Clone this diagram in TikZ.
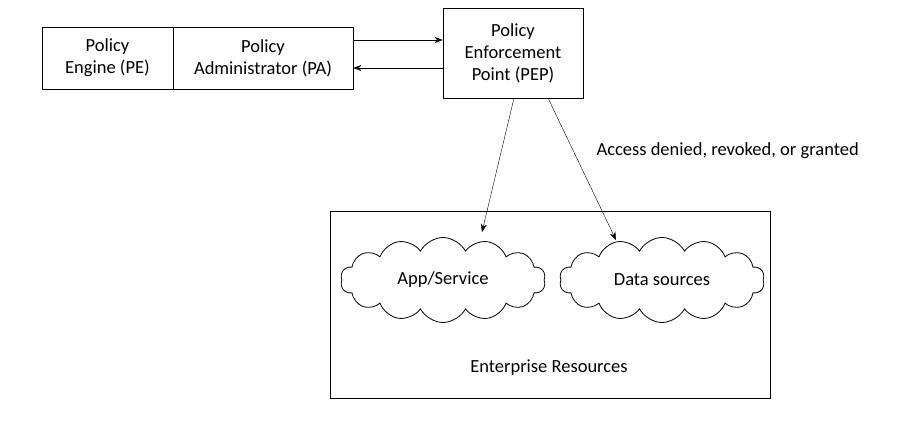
\documentclass[tikz,border=0pt]{standalone}
\usepackage{fontspec}
\setmainfont{Carlito}
\usetikzlibrary{shapes.symbols,arrows.meta}
\begin{document}
\begin{tikzpicture}[x=1pt,y=-1pt,
  box/.style={draw,thick,align=center,inner sep=0pt,font=\fontsize{18.5}{22}\selectfont},
  cl/.style={draw,thick,cloud,cloud puffs=14,cloud puff arc=125,aspect=2.5,minimum width=205pt,minimum height=85pt,font=\fontsize{18.5}{22}\selectfont},
  arr/.style={-{Stealth[length=8pt,width=6pt]},thin},
  lbl/.style={font=\fontsize{18.5}{22}\selectfont}]
\useasboundingbox (0,0) rectangle (900,441);
\node[box,minimum width=131pt,minimum height=62pt] (pe) at (107.5,58) {Policy\\Engine (PE)};
\node[box,minimum width=180pt,minimum height=62pt] (pa) at (263,58) {Policy\\Administrator (PA)};
\node[box,minimum width=140pt,minimum height=90pt] (pep) at (513,53) {Policy\\Enforcement\\Point (PEP)};
\node[draw,thick,minimum width=440pt,minimum height=187pt] (er) at (550,304.5) {};
\node[lbl] (ert) at (549,368) {Enterprise Resources};
\node[cl] (app) at (443,280) {App/Service};
\node[cl] (ds) at (662,280) {Data sources};
\node[lbl,anchor=west] (acc) at (593,151) {Access denied, revoked, or granted};
\coordinate (a1) at (pa.east |- 0,40);
\coordinate (b1) at (pep.west |- 0,40);
\coordinate (a2) at (pa.east |- 0,68);
\coordinate (b2) at (pep.west |- 0,68);
\draw[arr] (a1) -- (b1);
\draw[arr] (b2) -- (a2);
\coordinate (p1) at (514,98);
\coordinate (p2) at (548,98);
\coordinate (t1) at (482,232);
\coordinate (t2) at (616,240);
\draw[arr] (p1) -- (t1);
\draw[arr] (p2) -- (t2);
\end{tikzpicture}
\end{document}
